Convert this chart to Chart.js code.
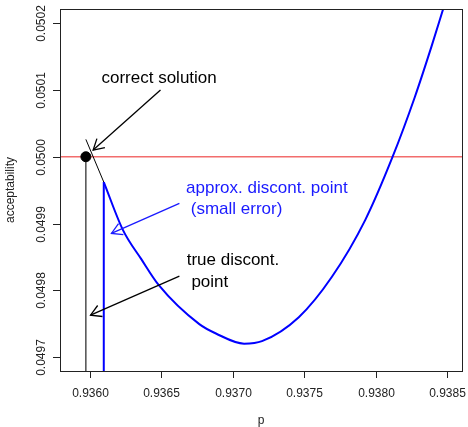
<!DOCTYPE html>
<html>
<head>
<meta charset="utf-8">
<script src="https://cdn.jsdelivr.net/npm/chart.js@4.4.1/dist/chart.umd.min.js"></script>
<style>
  html, body { margin: 0; padding: 0; background: #fff; }
  #caja { width: 468px; height: 427px; }
</style>
</head>
<body>
<div id="caja"><canvas id="grafica"></canvas></div>
<script>
// Axis ranges and ticks
const xMin = 0.9357913, xMax = 0.9386023;
const yMin = 0.0496795, yMax = 0.050221;
const xTicks = [0.9360, 0.9365, 0.9370, 0.9375, 0.9380, 0.9385];
const yTicks = [0.0497, 0.0498, 0.0499, 0.0500, 0.0501, 0.0502];
const xTickLabels = ["0.9360", "0.9365", "0.9370", "0.9375", "0.9380", "0.9385"];
const yTickLabels = ["0.0497", "0.0498", "0.0499", "0.0500", "0.0501", "0.0502"];

// Target acceptability level
const nivel = 0.05;

// Blue curve (approximation)
const curvaP = [0.9360974, 0.9362317, 0.9363597, 0.9364822, 0.9367654, 0.9368816, 0.9370785,
  0.9372037, 0.9374612, 0.9376929, 0.9379253, 0.9381173, 0.9382732, 0.9383887, 0.9384701];
const curvaAcc = [0.0499621, 0.0498903, 0.0498469, 0.0498079, 0.0497496, 0.0497356, 0.0497204,
  0.0497241, 0.0497600, 0.0498204, 0.0499052, 0.0500000, 0.0500898, 0.0501647, 0.0502207];

// True curve piece and discontinuity points
const trueP = [0.9359722, 0.9360974];
const trueAcc = [0.0500260, 0.0499621];
const pVerdadero = 0.9359722;
const pAprox = 0.9360974;
const accAprox = 0.0499621;

// Arrows: start and end
const flechaP0 = [0.9364940, 0.9366262, 0.9366262];
const flechaA0 = [0.0500998, 0.0499302, 0.0498214];
const flechaP1 = [0.9360230, 0.9361510, 0.9360049];
const flechaA1 = [0.0500100, 0.0498853, 0.0497630];
const flechaColor = ["#000000", "#1a1aff", "#000000"];

// Text labels
const textos = ["correct solution", "approx. discont. point", " (small error)", "true discont.", " point"];
const textoP = [0.9360814, 0.9366728, 0.9366728, 0.9366770, 0.9366770];
const textoA = [0.0501174, 0.0499527, 0.0499213, 0.0498454, 0.0498129];
const textoColor = ["#000000", "#1a1aff", "#1a1aff", "#000000", "#000000"];

const fuente = '"Liberation Sans", Arial, Helvetica, sans-serif';

function puntos(xs, ys) {
  return xs.map((x, i) => ({ x, y: ys[i] }));
}

const datasets = [
  {
    data: [{ x: xMin, y: nivel }, { x: xMax, y: nivel }],
    borderColor: "#f26d6d", borderWidth: 1.5, order: 10
  },
  {
    data: puntos(curvaP, curvaAcc),
    borderColor: "#0000ff", borderWidth: 2, cubicInterpolationMode: "monotone", order: 5
  },
  {
    data: [{ x: pAprox, y: yMin }, { x: pAprox, y: accAprox }],
    borderColor: "#0000ff", borderWidth: 2, order: 5
  },
  {
    data: puntos(trueP, trueAcc),
    borderColor: "#000000", borderWidth: 1, order: 5
  },
  {
    data: [{ x: pVerdadero, y: yMin }, { x: pVerdadero, y: nivel }],
    borderColor: "#222222", borderWidth: 1.2, order: 5
  },
  {
    data: [{ x: pVerdadero, y: nivel }],
    showLine: false, pointRadius: 5, backgroundColor: "#000", borderColor: "#000", order: 0
  }
];

flechaP0.forEach((p, i) => {
  datasets.push({
    data: [{ x: p, y: flechaA0[i] }, { x: flechaP1[i], y: flechaA1[i] }],
    borderColor: flechaColor[i], borderWidth: 1.3, flecha: true, order: 1
  });
});

// Arrow heads, R style box, ticks and text
const dibujoR = {
  id: "dibujoR",
  afterDatasetsDraw(chart) {
    const ctx = chart.ctx;
    const xs = chart.scales.x, ys = chart.scales.y;
    const area = chart.chartArea;
    ctx.save();

    chart.data.datasets.forEach((ds, i) => {
      if (!ds.flecha) return;
      const pts = chart.getDatasetMeta(i).data;
      const a = pts[0], b = pts[1];
      const ang = Math.atan2(b.y - a.y, b.x - a.x);
      const largo = 12;
      ctx.strokeStyle = ds.borderColor;
      ctx.lineWidth = 1.3;
      ctx.beginPath();
      ctx.moveTo(b.x - largo * Math.cos(ang - Math.PI / 6), b.y - largo * Math.sin(ang - Math.PI / 6));
      ctx.lineTo(b.x, b.y);
      ctx.lineTo(b.x - largo * Math.cos(ang + Math.PI / 6), b.y - largo * Math.sin(ang + Math.PI / 6));
      ctx.stroke();
    });

    // box
    ctx.strokeStyle = "#222";
    ctx.lineWidth = 1;
    ctx.strokeRect(Math.round(area.left) + 0.5, Math.round(area.top) + 0.5,
      Math.round(area.right - area.left), Math.round(area.bottom - area.top));

    // x axis
    ctx.fillStyle = "#222";
    ctx.font = "12px " + fuente;
    ctx.textAlign = "center";
    ctx.textBaseline = "alphabetic";
    xTicks.forEach((t, i) => {
      const px = Math.round(xs.getPixelForValue(t)) + 0.5;
      ctx.beginPath();
      ctx.moveTo(px, area.bottom);
      ctx.lineTo(px, area.bottom + 7);
      ctx.stroke();
      ctx.fillText(xTickLabels[i], px, area.bottom + 26);
    });
    ctx.fillText("p", (area.left + area.right) / 2, 424);

    // y axis
    yTicks.forEach((t, i) => {
      const py = Math.round(ys.getPixelForValue(t)) + 0.5;
      ctx.beginPath();
      ctx.moveTo(area.left, py);
      ctx.lineTo(area.left - 7, py);
      ctx.stroke();
      ctx.save();
      ctx.translate(44.5, py);
      ctx.rotate(-Math.PI / 2);
      ctx.fillText(yTickLabels[i], 0, 0);
      ctx.restore();
    });
    ctx.save();
    ctx.translate(14, (area.top + area.bottom) / 2);
    ctx.rotate(-Math.PI / 2);
    ctx.fillText("acceptability", 0, 0);
    ctx.restore();

    // labels in the plot
    ctx.font = "17px " + fuente;
    ctx.textAlign = "left";
    ctx.textBaseline = "middle";
    textos.forEach((t, i) => {
      ctx.fillStyle = textoColor[i];
      ctx.fillText(t, xs.getPixelForValue(textoP[i]), ys.getPixelForValue(textoA[i]));
    });

    ctx.restore();
  }
};

new Chart(document.getElementById("grafica"), {
  type: "scatter",
  data: { datasets },
  options: {
    responsive: true,
    maintainAspectRatio: false,
    animation: false,
    showLine: true,
    layout: { padding: { left: 60, right: 4, top: 9, bottom: 56 } },
    elements: { point: { radius: 0, hoverRadius: 0 }, line: { borderCapStyle: "butt" } },
    datasets: { scatter: { showLine: true, pointRadius: 0 } },
    scales: {
      x: { type: "linear", min: xMin, max: xMax, display: false },
      y: { type: "linear", min: yMin, max: yMax, display: false }
    },
    plugins: {
      legend: { display: false },
      tooltip: { enabled: false }
    }
  },
  plugins: [dibujoR]
});
</script>
</body>
</html>
